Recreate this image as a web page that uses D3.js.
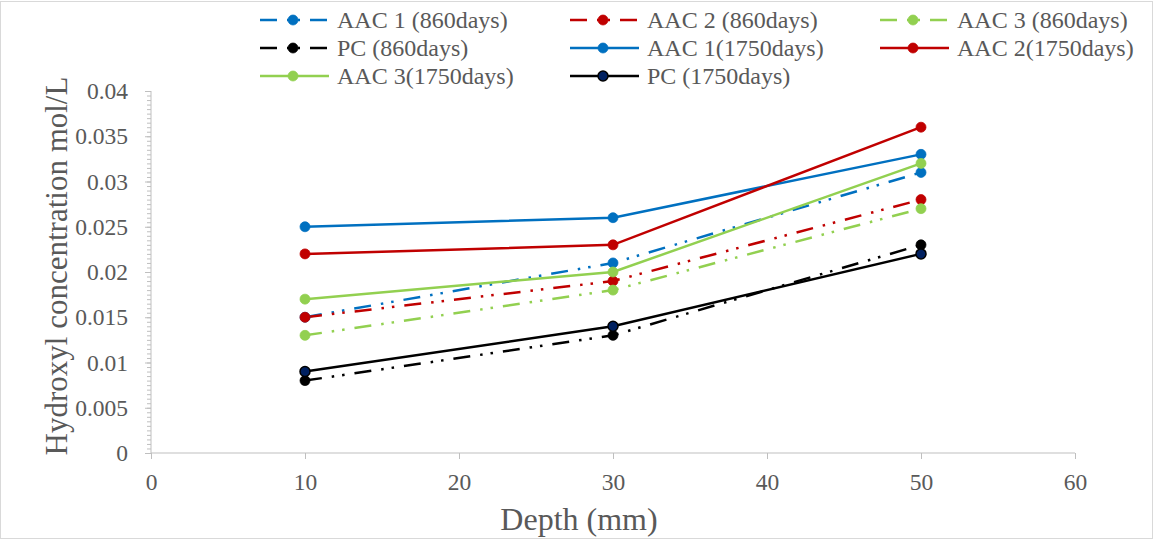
<!DOCTYPE html>
<html><head><meta charset="utf-8">
<script src="https://cdn.jsdelivr.net/npm/d3@7/dist/d3.min.js"></script>
<style>body{margin:0;background:#fff}svg{display:block}</style>
</head><body><svg id="c" width="1154" height="540"></svg>
<script>
const depths = [10, 30, 50];
const seriesNames = ["AAC 1 (860days)","AAC 2 (860days)","AAC 3 (860days)","PC (860days)","AAC 1(1750days)","AAC 2(1750days)","AAC 3(1750days)","PC (1750days)"];
const aac1_860 = [0.015, 0.021, 0.031];
const aac2_860 = [0.015, 0.019, 0.028];
const aac3_860 = [0.013, 0.018, 0.027];
const pc_860 = [0.008, 0.013, 0.023];
const aac1_1750 = [0.025, 0.026, 0.033];
const aac2_1750 = [0.022, 0.023, 0.036];
const aac3_1750 = [0.017, 0.020, 0.032];
const pc_1750 = [0.009, 0.014, 0.022];
const xTicks = [0,10,20,30,40,50,60];
const yTicks = [0,0.005,0.01,0.015,0.02,0.025,0.03,0.035,0.04];
const yTickLabels = ["0","0.005","0.01","0.015","0.02","0.025","0.03","0.035","0.04"];

const seriesValues = [aac1_860,aac2_860,aac3_860,pc_860,aac1_1750,aac2_1750,aac3_1750,pc_1750];
const colors = ["#0070C0","#C00000","#92D050","#000000","#0070C0","#C00000","#92D050","#000000"];
const markerFill = ["#0070C0","#C00000","#92D050","#000000","#0070C0","#C00000","#92D050","#002060"];
const dashed = [true,true,true,true,false,false,false,false];
const DASH = "17,10,2.5,8,2.5,10";
const FONT = '"Liberation Serif", "Times New Roman", serif';
const TXT = "#595959";

const svg = d3.select("#c");
svg.append("rect").attr("x",0.5).attr("y",1.5).attr("width",1152).attr("height",537).attr("fill","#fff").attr("stroke","#D9D9D9");

const x = d3.scaleLinear().domain([0,60]).range([151,1075]);
const y = d3.scaleLinear().domain([0,0.04]).range([453,91]);
const axisColor = "#BFBFBF";

// Y axis minor ticks
const yAx = svg.append("g").attr("transform","translate(151,0)")
  .call(d3.axisLeft(y).tickValues(d3.range(0,81).map(i=>i*0.0005)).tickSize(4).tickFormat(""));
yAx.call(g=>{g.select(".domain").remove(); g.selectAll("line").attr("stroke",axisColor);});
const yMaj = svg.append("g").attr("transform","translate(151,0)")
  .call(d3.axisLeft(y).tickValues(yTicks).tickSize(6).tickPadding(17).tickFormat((d,i)=>yTickLabels[i]));
yMaj.select(".domain").attr("stroke",axisColor).attr("d","M0,91V453");
yMaj.selectAll("line").attr("stroke",axisColor);
yMaj.selectAll("text").style("font-size","23.5px").style("fill",TXT).style("font-family",FONT);

// X axis
const xAx = svg.append("g").attr("transform","translate(0,453)")
  .call(d3.axisBottom(x).tickValues(xTicks).tickSize(6).tickPadding(14).tickFormat(d3.format("d")));
xAx.select(".domain").attr("stroke",axisColor).attr("d","M151,0H1075");
xAx.selectAll("line").attr("stroke",axisColor);
xAx.selectAll("text").style("font-size","23.5px").style("fill",TXT).style("font-family",FONT);

// titles
svg.append("text").attr("x",579).attr("y",530).attr("text-anchor","middle")
  .style("font-size","32px").style("font-family",FONT).style("fill",TXT).text("Depth (mm)");
svg.append("text").attr("transform","translate(67,266) rotate(-90)").attr("text-anchor","middle")
  .style("font-size","31px").style("font-family",FONT).style("fill",TXT).text("Hydroxyl concentration mol/L");

// lines
const line = d3.line().x((d,i)=>x(depths[i])).y(d=>y(d));
seriesValues.forEach((vals,k)=>{
  svg.append("path").datum(vals).attr("d",line).attr("fill","none")
    .attr("stroke",colors[k]).attr("stroke-width",2.5).attr("stroke-dasharray",dashed[k]?DASH:null);
});
seriesValues.forEach((vals,k)=>{
  svg.append("g").selectAll("circle").data(vals).join("circle")
    .attr("cx",(d,i)=>x(depths[i])).attr("cy",d=>y(d)).attr("r",5)
    .attr("fill",markerFill[k]).attr("stroke",colors[k]).attr("stroke-width",k===7?1.5:0.75);
});

// legend
const legCols = [260,570,880];
const legRows = [20,48,76];
seriesNames.forEach((name,k)=>{
  const cx = legCols[k%3], cy = legRows[Math.floor(k/3)];
  const g = svg.append("g");
  g.append("line").attr("x1",cx).attr("x2",cx+69).attr("y1",cy).attr("y2",cy)
    .attr("stroke",colors[k]).attr("stroke-width",2.5).attr("stroke-dasharray",dashed[k]?DASH:null);
  g.append("circle").attr("cx",cx+33).attr("cy",cy).attr("r",5).attr("fill",markerFill[k]).attr("stroke",colors[k]).attr("stroke-width",k===7?1.5:0.75);
  g.append("text").attr("x",cx+77).attr("y",cy).attr("dy","0.35em")
    .style("font-size","24px").style("font-family",FONT).style("fill",TXT).text(name);
});
</script></body></html>
